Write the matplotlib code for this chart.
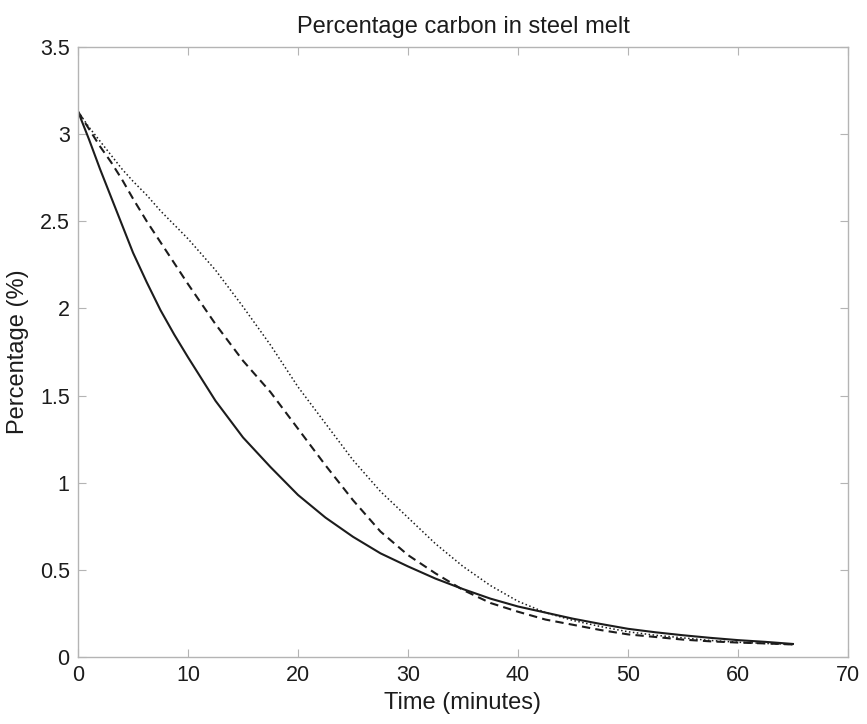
import matplotlib
matplotlib.use("Agg")
import matplotlib.pyplot as plt

# time grid (minutes) shared by the three simulated runs
time_min = [0, 1, 2, 3, 4, 5, 6.25, 7.5, 8.75, 10, 12.5, 15, 17.5, 20, 22.5,
            25, 27.5, 30, 32.5, 35, 37.5, 40, 42.5, 45, 47.5, 50, 52.5, 55,
            57.5, 60, 62.5, 65]

# percentage carbon
carbon_solid = [3.13, 2.97, 2.80, 2.64, 2.48, 2.32, 2.15, 1.99, 1.85, 1.72,
                1.47, 1.26, 1.09, 0.93, 0.80, 0.69, 0.595, 0.52, 0.45, 0.39,
                0.335, 0.29, 0.255, 0.22, 0.19, 0.162, 0.142, 0.125, 0.11,
                0.097, 0.087, 0.075]
carbon_dashed = [3.13, 3.03, 2.93, 2.84, 2.74, 2.63, 2.50, 2.38, 2.26, 2.14,
                 1.91, 1.70, 1.52, 1.31, 1.10, 0.90, 0.72, 0.585, 0.48, 0.385,
                 0.31, 0.26, 0.215, 0.185, 0.155, 0.13, 0.115, 0.10, 0.09,
                 0.083, 0.078, 0.072]
carbon_dotted = [3.13, 3.04, 2.96, 2.88, 2.80, 2.73, 2.65, 2.56, 2.48, 2.40,
                 2.22, 2.01, 1.79, 1.55, 1.34, 1.13, 0.95, 0.80, 0.65, 0.52,
                 0.41, 0.32, 0.255, 0.21, 0.175, 0.145, 0.125, 0.11, 0.095,
                 0.085, 0.078, 0.072]

x_ticks = [0, 10, 20, 30, 40, 50, 60, 70]
y_ticks = [0, 0.5, 1, 1.5, 2, 2.5, 3, 3.5]

plt.rcParams["font.family"] = ["Liberation Sans", "DejaVu Sans"]

INK = "#1c1c1c"
BOX = "#b4b4b4"

fig = plt.figure(figsize=(8.67, 7.24), dpi=100)
ax = fig.add_axes([0.090, 0.0925, 0.888, 0.8425])

ax.plot(time_min, carbon_solid, color=INK, lw=1.5, ls="-")
ax.plot(time_min, carbon_dashed, color=INK, lw=1.5, ls=(0, (4, 2.5)))
ax.plot(time_min, carbon_dotted, color=INK, lw=1.1, ls=(0, (1, 1.6)))

ax.set_xlim(0, 70)
ax.set_ylim(0, 3.5)
ax.set_xticks(x_ticks)
ax.set_yticks(y_ticks)
ax.set_xticklabels([f"{v:g}" for v in x_ticks])
ax.set_yticklabels([f"{v:g}" for v in y_ticks])

for s in ax.spines.values():
    s.set_color(BOX)
    s.set_linewidth(1.0)
ax.tick_params(direction="in", length=6, width=0.8, color=BOX,
               top=True, right=True, labelsize=15.5, labelcolor=INK, pad=6)

ax.set_title("Percentage carbon in steel melt", fontsize=17, color=INK, pad=10)
ax.set_xlabel("Time (minutes)", fontsize=17, color=INK, labelpad=4)
ax.set_ylabel("Percentage (%)", fontsize=17, color=INK, labelpad=8)

fig.savefig("out.png", dpi=100, facecolor="white")
